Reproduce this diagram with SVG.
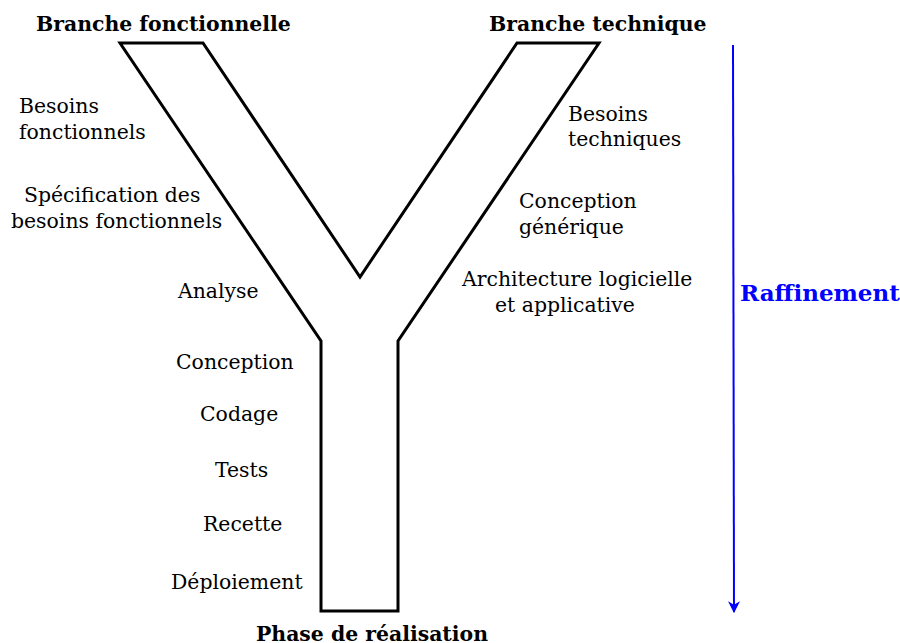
<svg xmlns="http://www.w3.org/2000/svg" width="900" height="643" viewBox="0 0 900 643">
<style>
text{font-family:"DejaVu Serif",serif;font-size:20.4px;fill:#000}
.b{font-weight:bold}
.blue{fill:#0000ff;font-size:23px}
.y{fill:none;stroke:#000;stroke-width:3;stroke-linejoin:miter}
</style>
<defs>
<marker id="ah" viewBox="0 0 10 10" refX="9" refY="5" markerWidth="6" markerHeight="6" orient="auto" markerUnits="strokeWidth">
<path d="M0,0 L10,5 L0,10 L3,5 z" fill="#0000ff"/>
</marker>
</defs>
<rect width="900" height="643" fill="#fff"/>
<g id="y-shape">
<path class="y" d="M120,43 L203,43 L360,277 L517,43 L599,43 L398,341 L398,611 L321,611 L321,341 Z"/>
</g>
<g id="titles">
<text class="b" x="36" y="31">Branche fonctionnelle</text>
<text class="b" x="489" y="31">Branche technique</text>
<text class="b" x="256" y="641">Phase de réalisation</text>
</g>
<g id="left-labels">
<text x="19" y="113">Besoins</text>
<text x="19" y="139">fonctionnels</text>
<text x="24" y="202">Spécification des</text>
<text x="11" y="228">besoins fonctionnels</text>
<text x="178" y="298">Analyse</text>
</g>
<g id="right-labels">
<text x="568" y="121">Besoins</text>
<text x="568" y="146">techniques</text>
<text x="519" y="208">Conception</text>
<text x="519" y="234">générique</text>
<text x="462" y="286">Architecture logicielle</text>
<text x="495" y="312">et applicative</text>
</g>
<g id="bottom-labels">
<text x="176" y="369">Conception</text>
<text x="200" y="421">Codage</text>
<text x="215" y="477">Tests</text>
<text x="203" y="531">Recette</text>
<text x="171" y="589">Déploiement</text>
</g>
<g id="connectors">
<line x1="733" y1="45" x2="734" y2="612" stroke="#0000ff" stroke-width="2" marker-end="url(#ah)"/>
</g>
<g id="raffinement">
<text class="b blue" x="740" y="301">Raffinement</text>
</g>
</svg>
